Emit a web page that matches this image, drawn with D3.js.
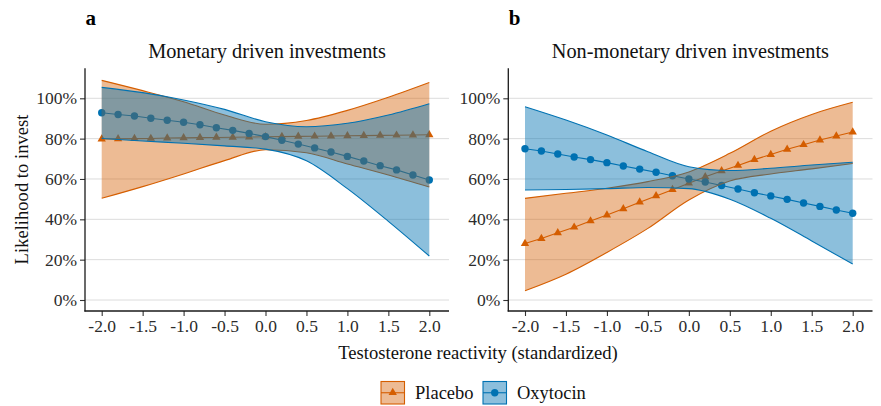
<!DOCTYPE html>
<html><head><meta charset="utf-8">
<script src="https://cdn.jsdelivr.net/npm/d3@7"></script>
<style>
body{margin:0;background:#fff}
svg{display:block}
svg text{font-family:"Liberation Serif","Times New Roman",serif !important;}
</style>
</head><body>
<svg id="c" width="881" height="406"></svg>
<script>
// ---------- data ----------
const pointX = [-2.0,-1.8,-1.6,-1.4,-1.2,-1.0,-0.8,-0.6,-0.4,-0.2,0.0,0.2,0.4,0.6,0.8,1.0,1.2,1.4,1.6,1.8,2.0];
const bandX  = [-2.0,-1.5,-1.0,-0.5,0.0,0.5,1.0,1.5,2.0];
const xTickValues = [-2.0,-1.5,-1.0,-0.5,0.0,0.5,1.0,1.5,2.0];
const yTickValues = [0,0.2,0.4,0.6,0.8,1.0];
const panelTitles = ["Monetary driven investments","Non-monetary driven investments"];
const panelLetters = ["a","b"];
const groups = ["Placebo","Oxytocin"];
const xTitle = "Testosterone reactivity (standardized)";
const yTitle = "Likelihood to invest";

// Monetary (panel a)
const monPlaceboMean  = [0.798,0.799,0.800,0.801,0.803,0.804,0.805,0.806,0.807,0.808,0.809,0.810,0.811,0.812,0.813,0.814,0.815,0.816,0.817,0.818,0.819];
const monPlaceboUpper = [1.089,1.038,0.983,0.917,0.871,0.890,0.940,1.005,1.078];
const monPlaceboLower = [0.504,0.562,0.625,0.691,0.745,0.730,0.674,0.620,0.560];
const monOxyMean  = [0.928,0.920,0.912,0.901,0.891,0.881,0.869,0.854,0.841,0.826,0.810,0.792,0.773,0.754,0.734,0.712,0.689,0.666,0.645,0.620,0.595];
const monOxyUpper = [1.054,1.028,0.992,0.945,0.884,0.859,0.876,0.917,0.973];
const monOxyLower = [0.801,0.788,0.777,0.764,0.748,0.690,0.552,0.390,0.218];

// Non-monetary (panel b)
const nonPlaceboMean  = [0.280,0.305,0.333,0.361,0.392,0.421,0.452,0.485,0.516,0.547,0.579,0.611,0.640,0.667,0.696,0.721,0.747,0.770,0.793,0.813,0.833];
const nonPlaceboUpper = [0.504,0.529,0.554,0.587,0.635,0.727,0.837,0.920,0.980];
const nonPlaceboLower = [0.046,0.128,0.236,0.355,0.496,0.590,0.625,0.650,0.677];
const nonOxyMean  = [0.750,0.739,0.724,0.709,0.696,0.681,0.664,0.649,0.633,0.616,0.600,0.585,0.568,0.550,0.532,0.516,0.499,0.481,0.464,0.446,0.430];
const nonOxyUpper = [0.958,0.892,0.818,0.735,0.661,0.642,0.653,0.669,0.683];
const nonOxyLower = [0.545,0.548,0.552,0.558,0.552,0.500,0.405,0.293,0.178];

// ---------- styles / layout ----------
const FONT = "'Liberation Serif','Times New Roman',serif";
const colors = {Placebo:"#D55E00", Oxytocin:"#0072B2"};
const fillOpacity = {Placebo:0.42, Oxytocin:0.45};
const svg = d3.select("#c");

const panelsLayout = [
  {left:85,  right:449, r0:101.7, r1:429.3},
  {left:508.3, right:872.5, r0:525.0, r1:852.7}
];
const axisTop = 68.3, axisBottom = 311;
const y = d3.scaleLinear().domain([0,1]).range([300,98.3]);

const panelData = [
  {Placebo:{mean:monPlaceboMean, upper:monPlaceboUpper, lower:monPlaceboLower},
   Oxytocin:{mean:monOxyMean, upper:monOxyUpper, lower:monOxyLower}},
  {Placebo:{mean:nonPlaceboMean, upper:nonPlaceboUpper, lower:nonPlaceboLower},
   Oxytocin:{mean:nonOxyMean, upper:nonOxyUpper, lower:nonOxyLower}}
];

const triangle = d3.symbol().type(d3.symbolTriangle).size(30);

panelsLayout.forEach((L, pi) => {
  const x = d3.scaleLinear().domain([-2,2]).range([L.r0, L.r1]);
  const g = svg.append("g");
  const D = panelData[pi];

  // gridlines
  g.selectAll(".grid").data(yTickValues).join("line")
    .attr("x1", L.left).attr("x2", L.right)
    .attr("y1", d=>y(d)).attr("y2", d=>y(d))
    .attr("stroke", "#dcdcdc").attr("stroke-width", 1);

  // mean lines and points (drawn beneath ribbons)
  groups.forEach(grp => {
    const pts = pointX.map((xv,i)=>({x:xv, v:D[grp].mean[i]}));
    g.append("path").datum(pts)
      .attr("d", d3.line().x(d=>x(d.x)).y(d=>y(d.v)))
      .attr("fill","none").attr("stroke", colors[grp]).attr("stroke-width",1.1);
    if (grp === "Placebo") {
      g.selectAll(null).data(pts).join("path")
        .attr("d", triangle)
        .attr("transform", d=>`translate(${x(d.x)},${y(d.v)})`)
        .attr("fill", colors[grp]);
    } else {
      g.selectAll(null).data(pts).join("circle")
        .attr("cx", d=>x(d.x)).attr("cy", d=>y(d.v)).attr("r", 3.7)
        .attr("fill", colors[grp]);
    }
  });

  // ribbons
  groups.forEach(grp => {
    const b = bandX.map((xv,i)=>({x:xv, lo:D[grp].lower[i], hi:D[grp].upper[i]}));
    const curve = d3.curveMonotoneX;
    g.append("path").datum(b)
      .attr("d", d3.area().curve(curve).x(d=>x(d.x)).y0(d=>y(d.lo)).y1(d=>y(d.hi)))
      .attr("fill", colors[grp]).attr("fill-opacity", fillOpacity[grp]);
    ["lo","hi"].forEach(k => {
      g.append("path").datum(b)
        .attr("d", d3.line().curve(curve).x(d=>x(d.x)).y(d=>y(d[k])))
        .attr("fill","none").attr("stroke", colors[grp]).attr("stroke-width",1.1);
    });
  });

  // axes
  const xAxis = d3.axisBottom(x).tickValues(xTickValues).tickSize(5).tickPadding(4)
    .tickFormat(d=>d.toFixed(1));
  const ax = g.append("g").attr("transform", `translate(0,${axisBottom})`).call(xAxis);
  ax.attr("font-family", null).attr("font-size", null);
  ax.select(".domain").remove();
  ax.selectAll(".tick line").attr("stroke","#333").attr("stroke-width",1.1);
  ax.selectAll(".tick text").style("font-size","17.5px").attr("fill","#2b2b2b")
    .style("font-family",FONT);

  const yAxis = d3.axisLeft(y).tickValues(yTickValues).tickSize(5).tickPadding(3)
    .tickFormat(d=>Math.round(d*100)+"%");
  const ay = g.append("g").attr("transform", `translate(${L.left},0)`).call(yAxis);
  ay.attr("font-family", null).attr("font-size", null);
  ay.select(".domain").remove();
  ay.selectAll(".tick line").attr("stroke","#333").attr("stroke-width",1.1);
  ay.selectAll(".tick text").style("font-size","17.5px").attr("fill","#2b2b2b")
    .style("font-family",FONT);

  // axis lines
  g.append("line").attr("x1",L.left).attr("x2",L.left).attr("y1",axisTop).attr("y2",axisBottom+0.6)
    .attr("stroke","#1a1a1a").attr("stroke-width",1.3);
  g.append("line").attr("x1",L.left-0.6).attr("x2",L.right).attr("y1",axisBottom).attr("y2",axisBottom)
    .attr("stroke","#1a1a1a").attr("stroke-width",1.3);

  // titles
  g.append("text").attr("x",(L.left+L.right)/2).attr("y",58).attr("text-anchor","middle")
    .style("font-size","20.3px").style("font-family",FONT).attr("fill","#111").text(panelTitles[pi]);
  g.append("text").attr("x",L.left+0.5).attr("y",25).attr("font-weight","bold")
    .style("font-size","21px").style("font-family",FONT).attr("fill","#000").text(panelLetters[pi]);
});

// axis titles
svg.append("text").attr("x",478).attr("y",359).attr("text-anchor","middle")
  .style("font-size","18.6px").style("font-family",FONT).attr("fill","#111").text(xTitle);
svg.append("text").attr("transform","translate(28,189.5) rotate(-90)").attr("text-anchor","middle")
  .style("font-size","18.6px").style("font-family",FONT).attr("fill","#111").text(yTitle);

// legend
const legendPos = [{kx:381, tx:415},{kx:483, tx:517}];
groups.forEach((grp,i) => {
  const P = legendPos[i];
  const lg = svg.append("g");
  lg.append("rect").attr("x",P.kx).attr("y",381.5).attr("width",23.5).attr("height",22.5)
    .attr("fill",colors[grp]).attr("fill-opacity",fillOpacity[grp])
    .attr("stroke",colors[grp]).attr("stroke-width",1.1);
  lg.append("line").attr("x1",P.kx).attr("x2",P.kx+23.5).attr("y1",392.75).attr("y2",392.75)
    .attr("stroke",colors[grp]).attr("stroke-width",1.1);
  if (grp==="Placebo") {
    lg.append("path").attr("d",triangle()).attr("transform",`translate(${P.kx+11.75},392.5)`).attr("fill",colors[grp]);
  } else {
    lg.append("circle").attr("cx",P.kx+11.75).attr("cy",392.75).attr("r",3.7).attr("fill",colors[grp]);
  }
  lg.append("text").attr("x",P.tx).attr("y",399).style("font-size","18.5px").style("font-family",FONT)
    .attr("fill","#111").text(grp);
});
</script>
</body></html>
